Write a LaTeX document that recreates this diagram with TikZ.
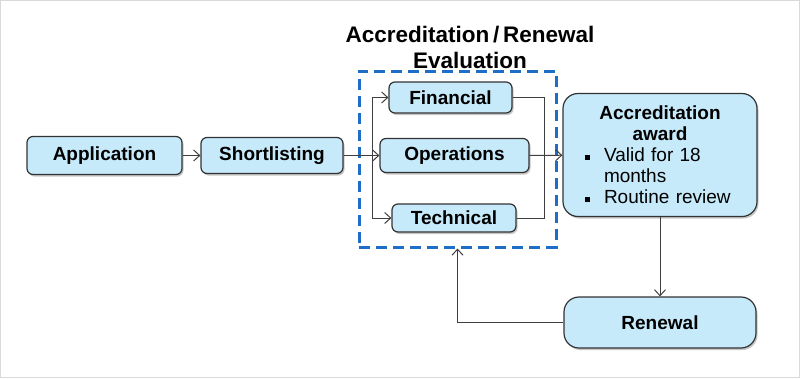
\documentclass[tikz,border=0pt]{standalone}
\usepackage{fontspec}
\setmainfont{Liberation Sans}
\usepackage{tikz}
\usetikzlibrary{arrows.meta,positioning,calc,shadows}
\definecolor{boxblue}{HTML}{C6EAFA}
\definecolor{boxline}{HTML}{333333}
\definecolor{evalblue}{HTML}{1E6EC8}
\definecolor{linkgray}{HTML}{3F3F3F}
\definecolor{framegray}{HTML}{D9D9D9}

\tikzset{
  stagebox/.style={draw=boxline,fill=boxblue,line width=1.2pt,rounded corners=6pt,
    drop shadow={shadow xshift=1.5pt,shadow yshift=-2pt,opacity=0.45},
    font=\fontsize{19}{20}\selectfont\bfseries,inner sep=0pt},
  bigbox/.style={stagebox,rounded corners=15pt},
  flow/.style={linkgray,line width=1pt,-{Straight Barb[length=6pt,width=11pt]}},
  link/.style={linkgray,line width=1pt},
}
\newcommand{\sqitem}{\par\hspace*{14pt}\makebox[19pt][l]{\rule[2pt]{5pt}{5pt}}}

\begin{document}
\begin{tikzpicture}[x=1pt,y=-1pt]
  \useasboundingbox (0,0) rectangle (800,378);
  \draw[framegray,line width=1pt] (0.5,0.5) rectangle (799.5,377.5);

  % Title of the evaluation block
  \node[font=\fontsize{22.5}{26}\selectfont\bfseries,align=center] (title) at (470,47)
    {Accreditation\,/\,Renewal\\Evaluation};

  % Evaluation block
  \node[draw=evalblue,line width=3pt,dash pattern=on 11pt off 6pt,
    minimum width=197pt,minimum height=176pt,inner sep=0pt] (eval) at (457.5,159) {};

  % Stages
  \node[stagebox,minimum width=155pt,minimum height=38pt] (app) at (104.5,155.5) {Application};
  \node[stagebox,minimum width=142pt,minimum height=36pt] (short) at (272,155.5) {Shortlisting};
  \node[stagebox,minimum width=123pt,minimum height=31pt] (fin) at (450.5,97.5) {Financial};
  \node[stagebox,minimum width=149pt,minimum height=34pt] (ops) at (454.5,155.5) {Operations};
  \node[stagebox,minimum width=124pt,minimum height=28pt] (tech) at (454,218) {Technical};
  \node[bigbox,minimum width=194pt,minimum height=123pt,text width=178pt,
    font=\fontsize{19}{21}\selectfont] (award) at (660,155)
    {{\centering\bfseries Accreditation\\award\par}%
     \raggedright
     \sqitem Valid for 18\\\hspace*{33pt}months
     \sqitem Routine review\par};
  \node[bigbox,minimum width=192pt,minimum height=51pt] (renewal) at (660,322.5) {Renewal};

  % Connectors
  \coordinate (split) at (372,155.5);
  \coordinate (merge) at (544,155.5);
  \draw[flow] (app) -- (short);
  \draw[flow] (short) -- (ops);
  \draw[flow] (split) |- (fin);
  \draw[flow] (split) |- (tech);
  \draw[link] (fin) -| (merge);
  \draw[link] (tech) -| (merge);
  \draw[flow] (ops) -- (award);
  \draw[flow] (award) -- (renewal);
  \draw[flow] (renewal) -| (eval);
\end{tikzpicture}
\end{document}
